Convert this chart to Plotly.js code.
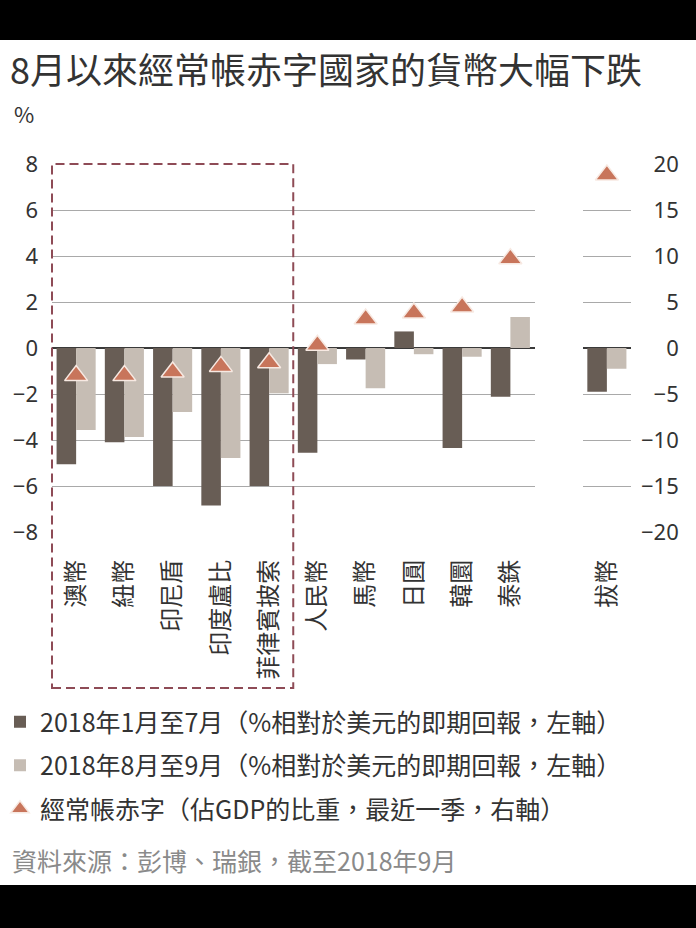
<!DOCTYPE html>
<html>
<head>
<meta charset="utf-8">
<script src="https://cdn.plot.ly/plotly-3.0.1.min.js"></script>
<style>
  html, body { margin: 0; padding: 0; background: #000; }
  #chart { width: 696px; height: 845px; margin-top: 40px; background: #fff; }
</style>
</head>
<body>
<div id="chart"></div>
<script>
// ---- data ----
const categories = ['澳幣', '紐幣', '印尼盾', '印度盧比', '菲律賓披索', '人民幣', '馬幣', '日圓', '韓圜', '泰銖', '拔幣'];
const janJul = [-5.05, -4.1, -6.0, -6.85, -6.0, -4.55, -0.5, 0.72, -4.35, -2.12, -1.9];
const augSep = [-3.57, -3.87, -2.78, -4.78, -1.97, -0.7, -1.75, -0.27, -0.38, 1.35, -0.9];
const caDeficit = [-3.0, -3.0, -2.6, -2.0, -1.6, 0.3, 3.15, 3.8, 4.45, 9.7, 18.8];
const leftTicks = [-8, -6, -4, -2, 0, 2, 4, 6, 8];
const rightTickVals = [-20, -15, -10, -5, 0, 5, 10, 15, 20];
const rightTickText = ['−20', '−15', '−10', '\u2007−5', '\u2007\u20070', '\u2007\u20075', '\u200710', '\u200715', '\u200720'];
const seriesNames = [
  '2018年1月至7月（%相對於美元的即期回報，左軸）',
  '2018年8月至9月（%相對於美元的即期回報，左軸）',
  '經常帳赤字（佔GDP的比重，最近一季，右軸）'
];
const titleText = '8月以來經常帳赤字國家的貨幣大幅下跌';
const unitText = '%';
const sourceText = '資料來源：彭博、瑞銀，截至2018年9月';

// ---- styles ----
const darkColor = '#685d55';
const lightColor = '#c6bdb4';
const triColor = '#c8755b';
const cjk = 'Noto Sans CJK TC';

const W = 696, H = 845;
const M = { l: 52, r: 65, t: 124, b: 353, autoexpand: false };
const plotW = W - M.l - M.r, plotH = H - M.t - M.b;
const px2x = px => (px - M.l) / plotW;
const px2y = py => (H - M.b - py) / plotH;

const mainCats = categories.slice(0, 10);
const sideCats = categories.slice(10);

const triMarker = { symbol: 'triangle-up', size: 20, color: triColor, line: { color: '#f7e9e2', width: 1.5 } };

const traces = [
  { type: 'bar', x: mainCats, y: janJul.slice(0, 10), name: seriesNames[0], marker: { color: darkColor },
    xaxis: 'x', yaxis: 'y', legendgroup: 'a', hoverinfo: 'skip' },
  { type: 'bar', x: mainCats, y: augSep.slice(0, 10), name: seriesNames[1], marker: { color: lightColor },
    xaxis: 'x', yaxis: 'y', legendgroup: 'b', hoverinfo: 'skip' },
  { type: 'bar', x: sideCats, y: janJul.slice(10), name: seriesNames[0], marker: { color: darkColor },
    xaxis: 'x2', yaxis: 'y', legendgroup: 'a', showlegend: false, hoverinfo: 'skip' },
  { type: 'bar', x: sideCats, y: augSep.slice(10), name: seriesNames[1], marker: { color: lightColor },
    xaxis: 'x2', yaxis: 'y', legendgroup: 'b', showlegend: false, hoverinfo: 'skip' },
  { type: 'scatter', mode: 'markers', x: mainCats, y: caDeficit.slice(0, 10), name: seriesNames[2],
    marker: triMarker, xaxis: 'x', yaxis: 'y2', legendgroup: 'c', hoverinfo: 'skip' },
  { type: 'scatter', mode: 'markers', x: sideCats, y: caDeficit.slice(10), name: seriesNames[2],
    marker: triMarker, xaxis: 'x2', yaxis: 'y3', legendgroup: 'c', showlegend: false, hoverinfo: 'skip' }
];

const catAxis = {
  type: 'category', tickangle: -90, ticks: '', showgrid: false, zeroline: false, showline: false,
  tickfont: { family: cjk, size: 24, color: '#333' }, ticklabelstandoff: 22, fixedrange: true
};

const layout = {
  width: W, height: H, margin: M,
  paper_bgcolor: '#fff', plot_bgcolor: '#fff',
  font: { family: cjk, color: '#333' },
  barmode: 'group', bargap: 0.19, bargroupgap: 0,
  showlegend: true,
  title: { text: titleText, font: { family: cjk, size: 36, color: '#333' },
           xref: 'container', yref: 'container', x: 10 / W, xanchor: 'left', y: 1 - 31 / H, yanchor: 'middle' },
  xaxis: Object.assign({}, catAxis, { domain: [0, 10 / 12], range: [-0.5, 9.5], anchor: 'y' }),
  xaxis2: Object.assign({}, catAxis, { domain: [11 / 12, 1], range: [-0.5, 0.5], anchor: 'y' }),
  yaxis: {
    range: [-8, 8], tickvals: leftTicks, ticks: '', showline: false,
    showgrid: true, gridcolor: '#a9a9a9', gridwidth: 1,
    zeroline: true, zerolinecolor: '#3a3a3a', zerolinewidth: 1.5,
    tickfont: { family: 'Noto Sans', size: 22, color: '#333' }, ticklabelstandoff: 13, fixedrange: true
  },
  yaxis2: {
    overlaying: 'y', side: 'right', anchor: 'x2', range: [-20, 20],
    tickvals: rightTickVals, ticktext: rightTickText, ticks: '',
    showgrid: false, zeroline: false, showline: false,
    tickfont: { family: 'Noto Sans', size: 22, color: '#333' }, ticklabelstandoff: 9, fixedrange: true
  },
  yaxis3: {
    overlaying: 'y', anchor: 'x2', range: [-20, 20], visible: false, fixedrange: true
  },
  legend: {
    orientation: 'v', xref: 'container', yref: 'container', x: 0, xanchor: 'left',
    y: 1 - 659 / H, yanchor: 'top', traceorder: 'grouped', tracegroupgap: 8,
    font: { family: cjk, size: 25, color: '#333' }, bgcolor: 'rgba(0,0,0,0)', itemclick: false
  },
  shapes: [{
    type: 'rect', xref: 'x domain', yref: 'paper', x0: 0, x1: 0.5, y0: px2y(648), y1: 1,
    line: { color: '#8e4b56', width: 2, dash: '9px,5px' }, fillcolor: 'rgba(0,0,0,0)', layer: 'above'
  }],
  annotations: [
    { text: unitText, xref: 'paper', yref: 'paper', x: px2x(12), y: px2y(73), xanchor: 'left', yanchor: 'middle',
      showarrow: false, font: { family: cjk, size: 22, color: '#333' } },
    { text: sourceText, xref: 'paper', yref: 'paper', x: px2x(10), y: px2y(820), xanchor: 'left', yanchor: 'middle',
      showarrow: false, font: { family: cjk, size: 25, color: '#8a8a8a' } }
  ]
};

Plotly.newPlot('chart', traces, layout, { staticPlot: true, displayModeBar: false });
</script>
</body>
</html>
